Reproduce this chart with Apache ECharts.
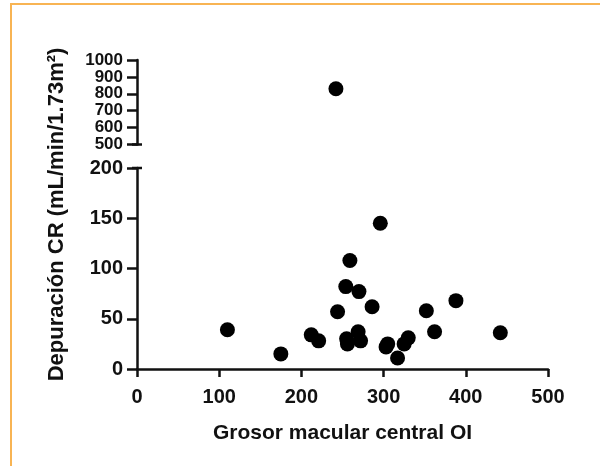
<!DOCTYPE html>
<html>
<head>
<meta charset="utf-8">
<script src="https://cdn.jsdelivr.net/npm/echarts@6/dist/echarts.min.js"></script>
<style>
html,body{margin:0;padding:0;background:#fff;}
#frame{position:absolute;left:10px;top:3px;width:600px;height:480px;border-left:2px solid #f8b453;border-top:2px solid #f8b453;}
#c{position:absolute;left:0;top:0;width:600px;height:466px;}
</style>
</head>
<body>
<div id="frame"></div>
<div id="c"></div>
<script>
// Data
const grosorOI = [110, 175, 212, 221, 244, 254, 259, 255, 256, 270, 269, 272, 286, 296, 303, 305, 317, 325, 330, 352, 362, 388, 442, 242];
const depuracionCR = [39, 15, 34, 28, 57, 82, 108, 30, 25, 77, 37, 28, 62, 145, 22, 25, 11, 25, 31, 58, 37, 68, 36, 830];
const xTicks = [0, 100, 200, 300, 400, 500];
const yLowerTicks = [0, 50, 100, 150, 200];
const yUpperTicks = [500, 600, 700, 800, 900, 1000];
const xTitle = 'Grosor macular central OI';
const yTitle = 'Depuración CR (mL/min/1.73m²)';

const points = grosorOI.map((x, i) => [x, depuracionCR[i]]);
const lowerPts = points.filter(p => p[1] <= yLowerTicks[yLowerTicks.length - 1]);
const upperPts = points.filter(p => p[1] >= yUpperTicks[0]);

const FONT = '"Liberation Sans", Arial, sans-serif';
const INK = '#111';
const labelStyle = {color: INK, fontFamily: FONT, fontWeight: 'bold', fontSize: 20,
  hideOverlap: false, showMinLabel: true, showMaxLabel: true, interval: 0,
  formatter: v => String(v)};

const chart = echarts.init(document.getElementById('c'), null, {renderer: 'canvas'});
const option = {
  animation: false,
  backgroundColor: 'transparent',
  grid: [
    {left: 137, right: 52, top: 60, height: 84.5},
    {left: 137, right: 52, top: 168, bottom: 97}
  ],
  xAxis: [
    {gridIndex: 0, type: 'value', min: 0, max: 500, interval: 100, show: false},
    {gridIndex: 1, type: 'value', min: xTicks[0], max: xTicks[xTicks.length - 1], interval: 100,
      axisLine: {show: true, onZero: false, lineStyle: {color: INK, width: 2.5}},
      axisTick: {show: true, length: 8, lineStyle: {color: INK, width: 2.5}},
      axisLabel: Object.assign({}, labelStyle, {margin: 18}),
      splitLine: {show: false},
      name: xTitle, nameLocation: 'middle', nameGap: 54,
      nameTextStyle: {color: INK, fontFamily: FONT, fontWeight: 'bold', fontSize: 21}
    }
  ],
  yAxis: [
    {gridIndex: 0, type: 'value', min: yUpperTicks[0], max: yUpperTicks[yUpperTicks.length - 1], interval: 100,
      axisLine: {show: true, onZero: false, lineStyle: {color: INK, width: 2.5}},
      axisTick: {show: true, length: 10, lineStyle: {color: INK, width: 2.5}},
      axisLabel: Object.assign({}, labelStyle, {margin: 14, fontSize: 17, lineHeight: 14}),
      splitLine: {show: false}
    },
    {gridIndex: 1, type: 'value', min: yLowerTicks[0], max: yLowerTicks[yLowerTicks.length - 1], interval: 50,
      axisLine: {show: true, onZero: false, lineStyle: {color: INK, width: 2.5}},
      axisTick: {show: true, length: 10, lineStyle: {color: INK, width: 2.5}},
      axisLabel: Object.assign({}, labelStyle, {margin: 14}),
      splitLine: {show: false}
    }
  ],
  series: [
    {type: 'scatter', xAxisIndex: 0, yAxisIndex: 0, data: upperPts, symbolSize: 15,
      itemStyle: {color: '#000', opacity: 1}, silent: true},
    {type: 'scatter', xAxisIndex: 1, yAxisIndex: 1, data: lowerPts, symbolSize: 15,
      itemStyle: {color: '#000', opacity: 1}, silent: true}
  ]
};
chart.setOption(option);

// Axis break caps, positioned from the axes' own scales
const capTop = chart.convertToPixel({gridIndex: 0}, [0, yUpperTicks[0]]);
const capBot = chart.convertToPixel({gridIndex: 1}, [0, yLowerTicks[yLowerTicks.length - 1]]);
const yTitleY = (chart.convertToPixel({gridIndex: 0}, [0, yUpperTicks[yUpperTicks.length - 1]])[1] +
                 chart.convertToPixel({gridIndex: 1}, [0, 0])[1]) / 2;
chart.setOption({
  graphic: [
    {type: 'line', shape: {x1: capTop[0] - 5, y1: capTop[1], x2: capTop[0] + 5, y2: capTop[1]},
      style: {stroke: INK, lineWidth: 2.5}},
    {type: 'line', shape: {x1: capBot[0] - 5, y1: capBot[1], x2: capBot[0] + 5, y2: capBot[1]},
      style: {stroke: INK, lineWidth: 2.5}},
    {type: 'text', x: 57, y: yTitleY, rotation: Math.PI / 2,
      style: {text: yTitle, fill: INK, font: 'bold 22px ' + FONT, textAlign: 'center', textVerticalAlign: 'middle'}}
  ]
});
</script>
</body>
</html>
